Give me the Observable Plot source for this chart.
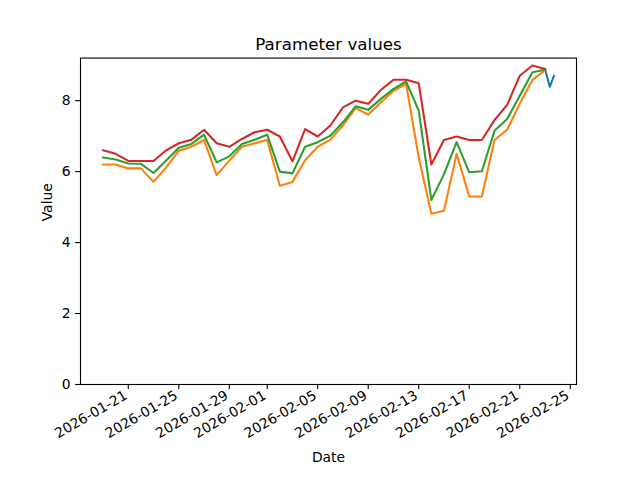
<!DOCTYPE html>
<html>
<head>
<meta charset="utf-8">
<script src="https://cdn.jsdelivr.net/npm/d3@7"></script>
<script src="https://cdn.jsdelivr.net/npm/@observablehq/plot@0.6"></script>
<style>
  html, body { margin: 0; padding: 0; background: #fff; }
  #chart svg { display: block; }
</style>
</head>
<body>
<div id="chart"></div>
<script>
const title = "Parameter values";
const xLabel = "Date";
const yLabel = "Value";

const dates = [
  "2026-01-19","2026-01-20","2026-01-21","2026-01-22","2026-01-23","2026-01-24",
  "2026-01-25","2026-01-26","2026-01-27","2026-01-28","2026-01-29","2026-01-30",
  "2026-01-31","2026-02-01","2026-02-02","2026-02-03","2026-02-04","2026-02-05",
  "2026-02-06","2026-02-07","2026-02-08","2026-02-09","2026-02-10","2026-02-11",
  "2026-02-12","2026-02-13","2026-02-14","2026-02-15","2026-02-16","2026-02-17",
  "2026-02-18","2026-02-19","2026-02-20","2026-02-21","2026-02-22","2026-02-23"
];
const redValues = [6.6, 6.5, 6.3, 6.3, 6.3, 6.6, 6.8, 6.9, 7.18, 6.8, 6.7, 6.92,
  7.11, 7.18, 6.99, 6.29, 7.2, 6.99, 7.3, 7.81, 8.0, 7.91, 8.3, 8.59,
  8.59, 8.49, 6.2, 6.89, 6.99, 6.89, 6.89, 7.45, 7.88, 8.7, 8.99, 8.89];
const greenValues = [6.4, 6.34, 6.23, 6.22, 5.96, 6.31, 6.67, 6.78, 7.04, 6.26, 6.43, 6.78,
  6.9, 7.04, 6.0, 5.95, 6.7, 6.83, 7.01, 7.39, 7.84, 7.74, 8.05, 8.33,
  8.54, 7.72, 5.2, 5.93, 6.83, 5.98, 6.01, 7.15, 7.48, 8.14, 8.8, 8.87];
const orangeValues = [6.2, 6.2, 6.09, 6.09, 5.71, 6.12, 6.59, 6.7, 6.89, 5.9, 6.31, 6.7,
  6.8, 6.89, 5.6, 5.71, 6.32, 6.7, 6.9, 7.3, 7.79, 7.61, 7.95, 8.28,
  8.47, 6.4, 4.81, 4.9, 6.5, 5.3, 5.3, 6.89, 7.18, 7.91, 8.58, 8.86];
const blueTimes = ["2026-02-23T00:00Z", "2026-02-23T09:00Z", "2026-02-23T17:00Z"];
const blueValues = [8.89, 8.39, 8.70];

const xTicks = ["2026-01-21","2026-01-25","2026-01-29","2026-02-01","2026-02-05",
  "2026-02-09","2026-02-13","2026-02-17","2026-02-21","2026-02-25"];
const yTicks = [0, 2, 4, 6, 8];

const colors = {blue: "#1f77b4", orange: "#ff7f0e", green: "#2ca02c", red: "#d62728"};

const parse = s => new Date(s.length === 10 ? s + "T00:00Z" : s);
const mk = (ts, vs) => ts.map((t, i) => ({date: parse(t), value: vs[i]}));
const red = mk(dates, redValues);
const green = mk(dates, greenValues);
const orange = mk(dates, orangeValues);
const blue = mk(blueTimes, blueValues);
const tickDates = xTicks.map(parse);
const fmt = d3.utcFormat("%Y-%m-%d");

// matplotlib-like 5% margins
const allX = [...red, ...blue].map(d => +d.date);
const x0 = d3.min(allX), x1 = d3.max(allX), pad = (x1 - x0) * 0.05;
const allY = [...red, ...green, ...orange, ...blue].map(d => d.value);
const yMax = d3.max(allY) + (d3.max(allY) - d3.min(allY)) * 0.05;

const lw = 2.08;
const chart = Plot.plot({
  width: 640,
  height: 480,
  marginLeft: 80,
  marginRight: 64,
  marginTop: 57.6,
  marginBottom: 96,
  style: {fontFamily: "DejaVu Sans", fontSize: "13.9px", color: "black", background: "white"},
  x: {type: "utc", domain: [new Date(x0 - pad), new Date(x1 + pad)]},
  y: {domain: [0, yMax]},
  marks: [
    Plot.lineY(blue, {x: "date", y: "value", stroke: colors.blue, strokeWidth: lw, strokeLinecap: "square"}),
    Plot.lineY(orange, {x: "date", y: "value", stroke: colors.orange, strokeWidth: lw, strokeLinecap: "square"}),
    Plot.lineY(green, {x: "date", y: "value", stroke: colors.green, strokeWidth: lw, strokeLinecap: "square"}),
    Plot.lineY(red, {x: "date", y: "value", stroke: colors.red, strokeWidth: lw, strokeLinecap: "square"}),
    Plot.frame({stroke: "black", strokeWidth: 1.1}),
    Plot.axisX({ticks: tickDates, tickSize: 4.9, fill: "none", label: null, strokeWidth: 1.1}),
    Plot.text(tickDates, {x: d => d, text: d => fmt(d), frameAnchor: "bottom", rotate: -30,
      textAnchor: "end", lineAnchor: "top", dx: -5, dy: 5, fontSize: 13.9, fill: "black"}),
    Plot.axisY({ticks: yTicks, tickFormat: d => String(d), tickSize: 4.9, tickPadding: 4.9,
      label: null, strokeWidth: 1.1, fontSize: 13.9}),
    Plot.text([title], {frameAnchor: "top", dy: -8, lineAnchor: "bottom", fontSize: 16.7, fill: "black"}),
    Plot.text([xLabel], {frameAnchor: "bottom", dy: 73, lineAnchor: "middle", fontSize: 13.9, fill: "black"}),
    Plot.text([yLabel], {frameAnchor: "left", dx: -32.5, rotate: -90, lineAnchor: "middle", fontSize: 13.9, fill: "black"})
  ]
});
document.getElementById("chart").appendChild(chart);
</script>
</body>
</html>
